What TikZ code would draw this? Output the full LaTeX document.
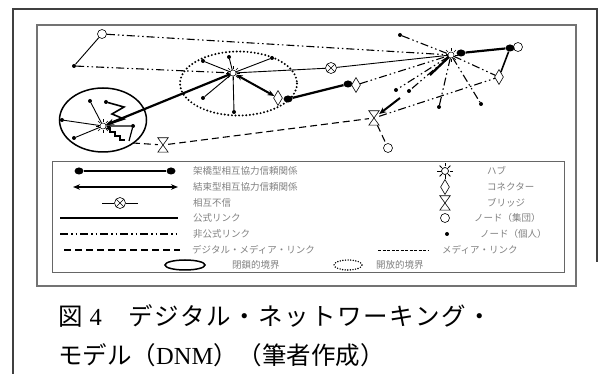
\documentclass[tikz,border=0pt]{standalone}
\usepackage{fontspec}
\setmainfont{Liberation Serif}
\newfontfamily\jp{Noto Sans CJK JP}
\newfontfamily\jpwide[LetterSpace=7]{Noto Sans CJK JP}
\usetikzlibrary{shapes.geometric,arrows.meta}
\begin{document}
\begin{tikzpicture}[x=1pt,y=-1pt,
  dot/.style={circle,fill=black,inner sep=0pt,minimum size=4pt},
  bigdot/.style={ellipse,fill=black,inner sep=0pt,minimum width=9pt,minimum height=7pt},
  grp/.style={circle,draw,fill=white,inner sep=0pt,minimum size=9pt,line width=0.6pt},
  hubn/.style={circle,draw,fill=white,inner sep=0pt,minimum size=6pt,line width=0.5pt},
  conn/.style={diamond,draw,fill=white,inner sep=0pt,minimum width=9pt,minimum height=15pt,line width=0.6pt},
  distr/.style={circle,draw,fill=white,inner sep=0pt,minimum size=11pt,line width=0.6pt,
    path picture={\draw[line width=0.6pt] (path picture bounding box.north west) -- (path picture bounding box.south east)
      (path picture bounding box.north east) -- (path picture bounding box.south west);}},
  bridgen/.style={rectangle,inner sep=0pt,minimum width=10pt,minimum height=14pt},
  formal/.style={line width=0.9pt},
  informal/.style={line width=1.1pt,dash pattern=on 8pt off 3pt on 1.5pt off 3pt on 1.5pt off 3pt},
  digital/.style={line width=1.1pt,dash pattern=on 7pt off 4pt},
  media/.style={line width=0.5pt,dash pattern=on 3pt off 1.5pt},
  bridging/.style={line width=2.2pt},
  bonding/.style={line width=2pt,{Stealth[length=7pt,width=5.5pt]}-{Stealth[length=7pt,width=5.5pt]}},
  leg/.style={font={\jp\fontsize{9.5}{10}\selectfont},text=black!50,anchor=west,inner sep=0pt},
  frameline/.style={draw=black!55,line width=1.2pt},
  captext/.style={anchor=west,inner sep=0pt,font=\fontsize{24.5}{25}\selectfont},
]
\useasboundingbox (0,0) rectangle (611,374);
% outer frame
\draw[black!75,line width=1.2pt] (13,374) -- (13,9) -- (597,9) -- (597,262);
% inner picture frame and legend box
\draw[frameline] (37,25) rectangle (576,286);
\draw[draw=black!60,line width=1pt] (52,162) rectangle (564,273);

% boundaries
\draw[line width=1.5pt] (103,120) ellipse [x radius=43.5, y radius=32];
\draw[line width=2.2pt,line cap=round,dash pattern=on 0pt off 3.6pt] (238.5,83.5) ellipse [x radius=58.5, y radius=32];

% nodes
\node[grp] (G1) at (102,34) {};
\node[dot] (d1) at (74,66) {};
\node[hubn] (H2) at (233,73) {};
\node[hubn] (H1) at (451,55) {};
\node[hubn] (H3) at (103,126) {};
\node[distr] (X1) at (331,68) {};
\node[conn] (C1) at (278,98) {};
\node[bigdot] (D1) at (288,99) {};
\node[bigdot] (D2) at (348,84) {};
\node[conn] (C2) at (356,85) {};
\node[dot] (Dt) at (400,35) {};
\node[bigdot] (D3) at (461,53) {};
\node[grp] (G2) at (518,47) {};
\node[bigdot] (D4) at (510,48) {};
\node[conn] (C3) at (499,77) {};
\node[bridgen] (B1) at (163,145) {};
\node[bridgen] (B2) at (374,118) {};
\node[grp] (G3) at (388,148) {};
\node[dot] (e1) at (396,90) {};
\node[dot] (e2) at (409,91) {};
\node[dot] (e3) at (439,107) {};
\node[dot] (e4) at (481,104) {};
\node[dot] (s1) at (203,61) {};
\node[dot] (s2) at (229,57) {};
\node[dot] (s3) at (272,58) {};
\node[dot] (s4) at (203,98) {};
\node[dot] (s5) at (234,112) {};
\node[dot] (c1) at (90,101) {};
\node[dot] (c2) at (106,102) {};
\node[dot] (c3) at (62,120) {};
\node[dot] (c4) at (74,138) {};
\node[dot] (c5) at (133,126) {};
\coordinate (ce) at (133,143);
\coordinate (k1) at (430,75);
\coordinate (k2) at (400,98);
\coordinate (c6) at (129,141);

% connectors
\draw[formal] (G1) -- (d1);
\draw[informal] (G1) -- (H1);
\draw[informal] (d1) -- (H2);
\draw[formal] (H2) -- (X1) -- (H1);
\draw[bonding] (H2) -- (C1);
\draw[bridging] (D1) -- (D2);
\draw[informal] (C2) -- (H1);
\draw[informal] (Dt) -- (H1);
\draw[bridging] (D3) -- (D4);
\draw[line width=1.6pt] (D4) -- (C3);
\draw[informal] (H1) -- (C3);
\draw[informal] (B2) -- (C3);
\draw[digital] (ce) -- (B1);
\draw[digital] (B1) -- (B2);
\draw[digital] (B2) -- (G3);
\draw[line width=2.2pt,-{Stealth[length=8pt,width=6pt]}] (H2) -- (H3);
\draw[informal] (H1) -- (e1);
\draw[informal] (H1) -- (e2);
\draw[informal] (H1) -- (e3);
\draw[informal] (H1) -- (e4);
\draw[line width=2.2pt] (H1) -- (k1);
\draw[line width=2pt,-{Stealth[length=7pt,width=6pt]}] (k2) -- (B2);
\foreach \s in {s1,s2,s3,s4,s5} \draw[formal] (H2) -- (\s);
\draw[formal] (H3) -- (c1);
\draw[line width=1.6pt,-{Stealth[length=5pt,width=4.5pt]}] (c2) -- (124,107) -- (112,114) -- (124,119) -- (H3);
\draw[formal] (H3) -- (c3);
\draw[formal] (H3) -- (c4);
\draw[line width=1.2pt] (H3) -- (c5) -- (c6);
\draw[line width=1.6pt,{Stealth[length=5pt,width=4.5pt]}-] (H3.south east) -- ++(5,0) -- ++(0,4) -- ++(5,0) -- ++(0,4) -- ++(5,0) -- ++(0,4) -- ++(5,0);

% hub rays and bridge glyphs
\foreach \h in {H1,H2,H3} \foreach \a in {0,45,...,315} \draw[line width=0.5pt] (\h) ++(\a:4) -- ++(\a:3);
\foreach \b in {B1,B2} \draw[line width=0.6pt,fill=white] (\b.north west) -- (\b.north east) -- (\b.south west) -- (\b.south east) -- cycle;

% legend, left column
\node[bigdot] (L1a) at (79,171) {};
\node[bigdot] (L1b) at (171,171) {};
\draw[bridging] (L1a) -- (L1b);
\coordinate (L2a) at (73,187); \coordinate (L2b) at (178,187);
\draw[bonding] (L2a) -- (L2b);
\node[distr] (L3x) at (120,203) {};
\coordinate (L3a) at (102,203); \coordinate (L3b) at (138,203);
\draw[formal] (L3a) -- (L3x) -- (L3b);
\coordinate (L4a) at (60,218); \coordinate (L4b) at (178,218);
\draw[line width=1.2pt] (L4a) -- (L4b);
\coordinate (L5a) at (60,234); \coordinate (L5b) at (176,234);
\draw[informal] (L5a) -- (L5b);
\coordinate (L6a) at (64,250); \coordinate (L6b) at (180,250);
\draw[digital] (L6a) -- (L6b);
\coordinate (L6c) at (378,250); \coordinate (L6d) at (428,250);
\draw[media] (L6c) -- (L6d);
\node[ellipse,draw,line width=1.5pt,minimum width=40pt,minimum height=10pt,inner sep=0pt] (L7a) at (185,265) {};
\node[ellipse,draw,line width=1.6pt,line cap=round,dash pattern=on 0pt off 2.6pt,minimum width=28pt,minimum height=10pt,inner sep=0pt] (L7b) at (348,265) {};

\node[leg] (T1) at (193,171) {架橋型相互協力信頼関係};
\node[leg] (T2) at (193,187) {結束型相互協力信頼関係};
\node[leg] (T3) at (193,203) {相互不信};
\node[leg] (T4) at (193,218) {公式リンク};
\node[leg] (T5) at (193,234) {非公式リンク};
\node[leg] (T6) at (192,250) {デジタル・メディア・リンク};
\node[leg] (T6b) at (442,250) {メディア・リンク};
\node[leg] (T7) at (232,265) {閉鎖的境界};
\node[leg] (T8) at (376,265) {開放的境界};

% legend, right column
\node[circle,draw,fill=white,inner sep=0pt,minimum size=7pt,line width=0.7pt] (LH) at (445,171) {};
\foreach \a in {0,45,...,315} \draw[line width=0.8pt] (LH) ++(\a:4.5) -- ++(\a:3.2);
\node[conn] (LC) at (445,187) {};
\node[bridgen] (LB) at (445,203) {};
\draw[line width=0.6pt] (LB.north west) -- (LB.north east) -- (LB.south west) -- (LB.south east) -- cycle;
\node[grp] (LG) at (445,218) {};
\node[dot] (LD) at (447,234) {};
\node[leg] (R1) at (487,171) {ハブ};
\node[leg] (R2) at (487,187) {コネクター};
\node[leg] (R3) at (487,203) {ブリッジ};
\node[leg] (R4) at (474,218) {ノード（集団）};
\node[leg] (R5) at (480,234) {ノード（個人）};

% caption
\node[captext] (cap1) at (58,316) {{\jp 図}\hspace{7pt}4{\jpwide 　デジタル・ネットワーキング・}};
\node[captext] (cap2) at (58,355) {{\jp モデル（}DNM{\jp ）（筆者作成）}};
\end{tikzpicture}
\end{document}
